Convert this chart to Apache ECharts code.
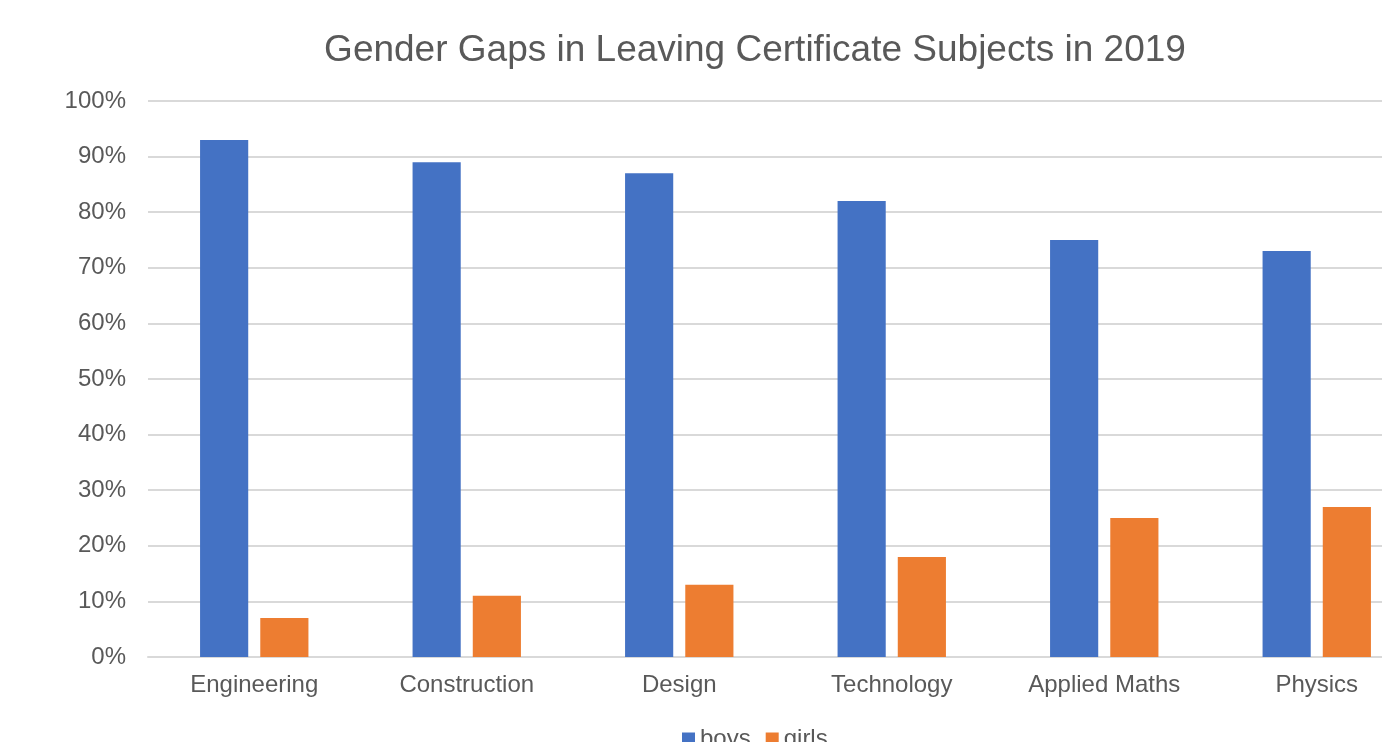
<!DOCTYPE html>
<html><head><meta charset="utf-8">
<script src="https://cdn.jsdelivr.net/npm/echarts@6/dist/echarts.min.js"></script>
<style>html,body{margin:0;padding:0;background:#fff;overflow:hidden;width:1382px;height:742px}#c{width:1440px;height:742px}</style>
</head><body><div id="c"></div>
<script>
const categories = ["Engineering","Construction","Design","Technology","Applied Maths","Physics"];
const boys = [93, 89, 87, 82, 75, 73];
const girls = [7, 11, 13, 18, 25, 27];
const yTicks = [0,10,20,30,40,50,60,70,80,90,100];

const chart = echarts.init(document.getElementById('c'), null, {renderer:'canvas'});
chart.setOption({
  animation:false,
  title:{text:'Gender Gaps in Leaving Certificate Subjects in 2019', left:750, textAlign:'center', top:27,
    textStyle:{fontFamily:'Liberation Sans, Arial', fontSize:37, fontWeight:'normal', color:'#595959'}},
  legend:{data:['boys','girls'], left:682, top:727, padding:0, itemWidth:13, itemHeight:13, itemGap:15,
    icon:'rect', textStyle:{fontFamily:'Liberation Sans, Arial', fontSize:24, color:'#595959', padding:[0,0,0,0]}},
  grid:{left:148, top:101, width:1275, height:556, containLabel:false},
  xAxis:{type:'category', data:categories,
    axisLine:{lineStyle:{color:'#d9d9d9', width:2}}, axisTick:{show:false},
    axisLabel:{fontFamily:'Liberation Sans, Arial', fontSize:24, color:'#595959', margin:16}},
  yAxis:{type:'value', min:0, max:100, interval:10,
    axisLine:{show:false}, axisTick:{show:false},
    splitLine:{lineStyle:{color:'#d9d9d9', width:2}},
    axisLabel:{fontFamily:'Liberation Sans, Arial', fontSize:24, color:'#595959', margin:22,
      formatter:v=> yTicks.includes(v) ? v+'%' : ''}},
  series:[
    {name:'boys', type:'bar', data:boys, barCategoryGap:'49%', barGap:'25%', itemStyle:{color:'#4472C4'}},
    {name:'girls', type:'bar', data:girls, barCategoryGap:'49%', barGap:'25%', itemStyle:{color:'#ED7D31'}}
  ]
});
</script></body></html>
